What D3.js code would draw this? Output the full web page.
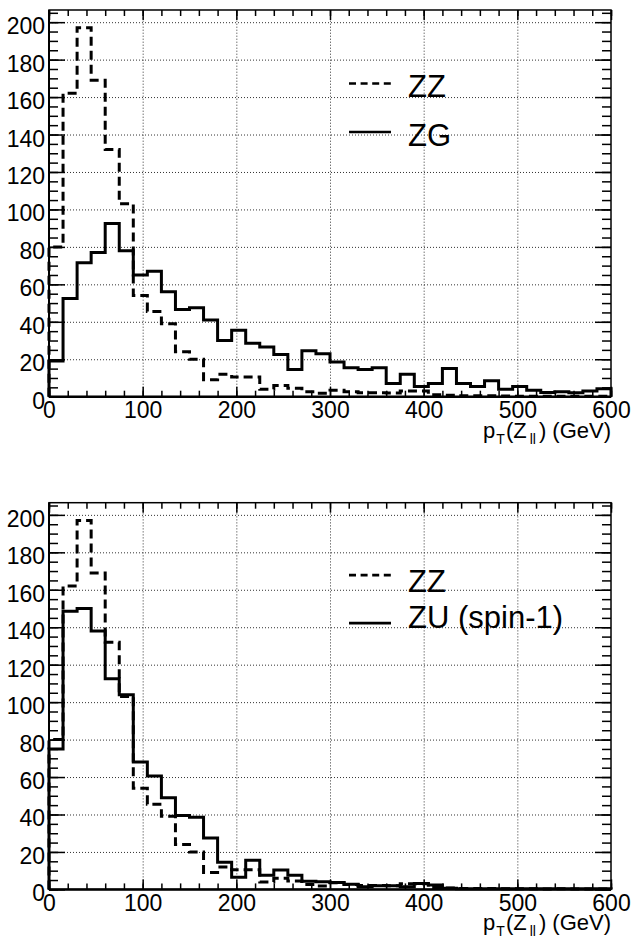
<!DOCTYPE html>
<html>
<head>
<meta charset="utf-8">
<script src="https://cdn.jsdelivr.net/npm/d3@7"></script>
<style>
  body { margin: 0; background: #fff; }
  text { font-family: "Liberation Sans", Arial, Helvetica, sans-serif; fill: #000; }
</style>
</head>
<body>
<div id="wrapper"></div>
<script>
// bins of 15 GeV from 0 to 600
const binWidth = 15;
const xTicks = [0, 100, 200, 300, 400, 500, 600];
const yTicks = [0, 20, 40, 60, 80, 100, 120, 140, 160, 180, 200];

// ZZ background (dashed, same in both panels)
const zzValues = [80, 162, 197, 169, 132, 103, 54, 45.5, 39, 24,
  20, 9, 12, 10.5, 10.5, 4, 6, 4.5, 2.6, 1.8,
  3.5, 2.6, 2.1, 2.1, 2, 3, 3, 1, 0.8, 0.5,
  0.5, 0.5, 0.4, 0.3, 0.3, 0.2, 0.3, 0.2, 0.2, 0.2];

// ZG signal (top panel, solid)
const zgValues = [19, 52.5, 71.5, 77, 92.5, 78, 65, 67, 56, 46.5,
  47.5, 41, 30, 35.5, 28.5, 26.5, 22.5, 14.5, 24.5, 23,
  18.5, 15.5, 14.5, 15.5, 7, 12, 5.5, 7, 15, 7,
  5.5, 8.5, 4, 5.5, 3.5, 2.2, 2.6, 2.1, 3.1, 4.3];

// ZU spin-1 signal (bottom panel, solid)
const zuValues = [75, 148.5, 150, 138, 112.5, 104, 68, 60.5, 49, 39.5,
  38.5, 27.5, 14.5, 6.5, 15.5, 7.5, 10.3, 7.5, 4.4, 4.1,
  3.7, 2.8, 1.4, 2, 2, 1.4, 3.2, 2.3, 0.6, 0.4,
  0.3, 0.3, 0.3, 0.3, 0.3, 0.3, 0.3, 0.3, 0.3, 0.3];

const panels = [
  { top: 10, signal: zgValues, labels: ["ZZ", "ZG"], legendY: [73.5, 122], textY: [87, 135.5] },
  { top: 502.7, signal: zuValues, labels: ["ZZ", "ZU (spin-1)"], legendY: [72.5, 120.5], textY: [89.5, 125.5] }
];

let dimensions = {
  width: 631,
  height: 944,
  frameLeft: 49,
  frameRight: 611,
  frameHeight: 386.7
};

const svg = d3.select("#wrapper")
  .append("svg")
  .attr("width", dimensions.width)
  .attr("height", dimensions.height);

const xScale = d3.scaleLinear()
  .domain([0, 600])
  .range([0, dimensions.frameRight - dimensions.frameLeft]);

const yScale = d3.scaleLinear()
  .domain([0, 206.5])
  .range([dimensions.frameHeight, 0]);

const fw = dimensions.frameRight - dimensions.frameLeft;
const fh = dimensions.frameHeight;

function histPoints(values) {
  const pts = [{ x: 0, y: 0 }];
  values.forEach((v, i) => pts.push({ x: i * binWidth, y: v }));
  pts.push({ x: values.length * binWidth, y: values[values.length - 1] });
  pts.push({ x: values.length * binWidth, y: 0 });
  return pts;
}

const lineGenerator = d3.line()
  .x(d => xScale(d.x))
  .y(d => yScale(d.y))
  .curve(d3.curveStepAfter);

panels.forEach(p => {
  const g = svg.append("g")
    .attr("transform", `translate(${dimensions.frameLeft},${p.top})`);

  // dotted grid
  g.append("g")
    .attr("transform", `translate(0,${fh})`)
    .call(d3.axisBottom(xScale).tickValues(xTicks.slice(1, -1)).tickSize(-fh).tickFormat(""))
    .call(a => a.select(".domain").remove())
    .selectAll("line").attr("stroke", "#333").attr("stroke-dasharray", "1,2");
  g.append("g")
    .call(d3.axisLeft(yScale).tickValues(yTicks.slice(1)).tickSize(-fw).tickFormat(""))
    .call(a => a.select(".domain").remove())
    .selectAll("line").attr("stroke", "#333").attr("stroke-dasharray", "1,2");

  // histograms
  g.append("path")
    .attr("d", lineGenerator(histPoints(zzValues)))
    .attr("fill", "none")
    .attr("stroke", "#000")
    .attr("stroke-width", 3)
    .attr("stroke-dasharray", "9,5");
  g.append("path")
    .attr("d", lineGenerator(histPoints(p.signal)))
    .attr("fill", "none")
    .attr("stroke", "#000")
    .attr("stroke-width", 3)
    .attr("stroke-linejoin", "miter");

  // frame
  g.append("rect")
    .attr("width", fw).attr("height", fh)
    .attr("fill", "none").attr("stroke", "#000").attr("stroke-width", 1.5);
  g.append("line")
    .attr("x1", 0).attr("x2", fw).attr("y1", fh).attr("y2", fh)
    .attr("stroke", "#000").attr("stroke-width", 2.5);
  g.append("line")
    .attr("x1", 0).attr("x2", 0).attr("y1", 0).attr("y2", fh)
    .attr("stroke", "#000").attr("stroke-width", 2);

  // ticks (inward, on all four sides)
  const xMinor = d3.range(0, 601, 20);
  const yMinor = d3.range(0, 206, 5);
  const tickStyle = sel => { sel.select(".domain").remove(); sel.selectAll("line").attr("stroke", "#000").attr("stroke-width", 1.5); };

  g.append("g").attr("transform", `translate(0,${fh})`)
    .call(d3.axisBottom(xScale).tickValues(xMinor).tickSize(-6).tickFormat("")).call(tickStyle);
  g.append("g")
    .call(d3.axisTop(xScale).tickValues(xMinor).tickSize(-6).tickFormat("")).call(tickStyle);
  g.append("g").attr("transform", `translate(0,${fh})`)
    .call(d3.axisBottom(xScale).tickValues(xTicks).tickSize(-10).tickFormat("")).call(tickStyle);
  g.append("g")
    .call(d3.axisTop(xScale).tickValues(xTicks).tickSize(-10).tickFormat("")).call(tickStyle);

  g.append("g")
    .call(d3.axisLeft(yScale).tickValues(yMinor).tickSize(-9).tickFormat("")).call(tickStyle);
  g.append("g").attr("transform", `translate(${fw},0)`)
    .call(d3.axisRight(yScale).tickValues(yMinor).tickSize(-9).tickFormat("")).call(tickStyle);
  g.append("g")
    .call(d3.axisLeft(yScale).tickValues(yTicks).tickSize(-16).tickFormat("")).call(tickStyle);
  g.append("g").attr("transform", `translate(${fw},0)`)
    .call(d3.axisRight(yScale).tickValues(yTicks).tickSize(-16).tickFormat("")).call(tickStyle);

  // tick labels
  const xAxis = g.append("g").attr("transform", `translate(0,${fh})`)
    .call(d3.axisBottom(xScale).tickValues(xTicks).tickSize(0).tickPadding(5));
  xAxis.select(".domain").remove();
  xAxis.selectAll("text").style("font-size", "23px").attr("fill", "#000");

  const yAxis = g.append("g")
    .call(d3.axisLeft(yScale).tickValues(yTicks).tickSize(0).tickPadding(4));
  yAxis.select(".domain").remove();
  yAxis.selectAll("text").style("font-size", "23px").attr("fill", "#000").attr("dy", "0.5em");

  // axis title
  const title = g.append("text")
    .attr("x", fw).attr("y", fh + 41)
    .attr("text-anchor", "end")
    .style("font-size", "22px");
  title.append("tspan").text("p");
  title.append("tspan").attr("dy", 6).attr("dx", 1).style("font-size", "14px").text("T");
  title.append("tspan").attr("dy", -6).attr("dx", 1).text("(Z");
  title.append("tspan").attr("dy", 6).attr("dx", 3).style("font-size", "14px").text("ll");
  title.append("tspan").attr("dy", -6).attr("dx", 3).text(") (GeV)");

  // legend
  const leg = svg.append("g");
  [0, 1].forEach(i => {
    leg.append("line")
      .attr("x1", 349).attr("x2", 391)
      .attr("y1", p.top + p.legendY[i]).attr("y2", p.top + p.legendY[i])
      .attr("stroke", "#000").attr("stroke-width", 2.7)
      .attr("stroke-dasharray", i === 0 ? "7,4.6" : null);
    leg.append("text")
      .attr("x", 408).attr("y", p.top + p.textY[i])
      .style("font-size", "31px")
      .text(p.labels[i]);
  });
});
</script>
</body>
</html>
